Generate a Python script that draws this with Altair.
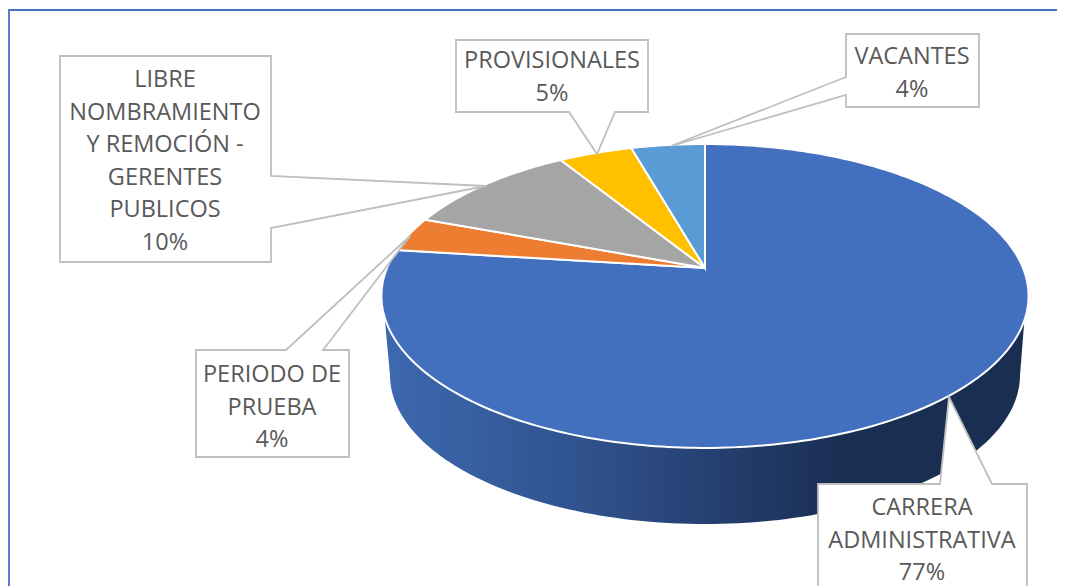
import math
import altair as alt

# ---- data ----
categories = ["CARRERA ADMINISTRATIVA", "PERIODO DE PRUEBA",
              "LIBRE NOMBRAMIENTO Y REMOCIÓN - GERENTES PUBLICOS",
              "PROVISIONALES", "VACANTES"]
shares = [77.0, 3.7, 10.5, 4.4, 4.4]
share_labels = ["77%", "4%", "10%", "5%", "4%"]
label_lines = ["CARRERA\nADMINISTRATIVA", "PERIODO DE\nPRUEBA",
               "LIBRE\nNOMBRAMIENTO\nY REMOCIÓN -\nGERENTES\nPUBLICOS",
               "PROVISIONALES", "VACANTES"]
colors = ["#4270BF", "#ED7D31", "#A5A5A5", "#FFC000", "#5B9BD5"]

# ---- layout (page pixels) ----
APEX = (705.0, 268.0)
A, B, K = 318.0, 146.8, 0.1842     # perspective of the disc
BOTTOM = (705.0, 375.0, 315.0, 149.0)
boxes = [  # left, right, top, bottom, wedge base a, wedge base b, tip, side
    (818, 1027, 484, 600, 940, 992, (949, 397), "top"),
    (196, 349, 350, 457, 286, 323, (410, 236), "top"),
    (60, 271, 56, 262, 176, 228, (486, 186), "right"),
    (456, 648, 40, 112, 569, 615, (597, 154), "bottom"),
    (846, 979, 34, 107, 77, 95, (671, 146), "left"),
]
first_line_anchor = [(922, 508), (272, 375), (165, 80), (552, 61), (912, 57)]


def disc(theta):
    u, v = math.sin(theta), -math.cos(theta)
    d = 1 - K * v
    return [APEX[0] + A * u / d, APEX[1] + B * v / d]


def feature(kind, coords, **props):
    return {"type": "Feature", "properties": props,
            "geometry": {"type": kind, "coordinates": coords}}


def callout(b):
    l, r, t, bo, a, c, tip, side = b
    tip = list(tip)
    if side == "top":
        pts = [[l, t], [a, t], tip, [c, t], [r, t], [r, bo], [l, bo]]
    elif side == "bottom":
        pts = [[l, t], [r, t], [r, bo], [c, bo], tip, [a, bo], [l, bo]]
    elif side == "right":
        pts = [[l, t], [r, t], [r, a], tip, [r, c], [r, bo], [l, bo]]
    else:
        pts = [[l, t], [r, t], [r, bo], [l, bo], [l, c], tip, [l, a]]
    return feature("Polygon", [pts + [pts[0]]])


total = sum(shares)
slices, start = [], 0.0
for name, share in zip(categories, shares):
    end = start + share / total * 2 * math.pi
    n = max(4, int((end - start) * 60))
    arc = [disc(start + (end - start) * i / n) for i in range(n + 1)]
    ring = [list(APEX)] + arc + [list(APEX)]
    slices.append(feature("Polygon", [ring], name=name))
    start = end

cx, cy, rx, ry = BOTTOM
wall_ring = [[383, 300]]
for i in range(121):
    t = math.pi * i / 120
    wall_ring.append([cx - rx * math.cos(t), cy + ry * math.sin(t)])
wall_ring += [[1026, 300], [383, 300]]
wall = [feature("Polygon", [wall_ring])]

frame = [feature("LineString", [[9, 586], [9, 10], [1065, 10]])]

projection = alt.Projection(type="identity", scale=1, translate=[-8, -8])

wall_layer = alt.Chart(alt.Data(values=wall)).mark_geoshape(
    stroke=None,
    fill=alt.Gradient(
        gradient="linear", x1=0, x2=1, y1=0, y2=0,
        stops=[alt.GradientStop(offset=0, color="#3D69B0"),
               alt.GradientStop(offset=0.3, color="#30538F"),
               alt.GradientStop(offset=0.55, color="#233C6B"),
               alt.GradientStop(offset=0.72, color="#1A2E52"),
               alt.GradientStop(offset=1, color="#1A2E52")]),
)

slice_layer = alt.Chart(alt.Data(values=slices)).mark_geoshape(
    stroke="white", strokeWidth=2
).encode(
    fill=alt.Color("properties.name:N",
                   scale=alt.Scale(domain=categories, range=colors),
                   legend=None)
)

callout_layer = alt.Chart(alt.Data(values=[callout(b) for b in boxes])).mark_geoshape(
    fill="white", stroke="#BFBFBF", strokeWidth=1.8
)

frame_layer = alt.Chart(alt.Data(values=frame)).mark_geoshape(
    filled=False, stroke="#4472C4", strokeWidth=1.8
)

rows = [{"t": f"{ln}\n{pc}", "lon": c[0], "lat": c[1]}
        for ln, pc, c in zip(label_lines, share_labels, first_line_anchor)]
text_layer = alt.Chart(alt.Data(values=rows)).mark_text(
    font="Open Sans", fontSize=23.5, color="#595959", lineBreak="\n",
    lineHeight=32.5, align="center", baseline="middle"
).encode(longitude="lon:Q", latitude="lat:Q", text="t:N")

chart = alt.layer(wall_layer, slice_layer, callout_layer, frame_layer, text_layer).properties(
    width=1049, height=578, projection=projection, padding=0,
    background="white", autosize=alt.AutoSizeParams(type="none")
).configure_view(stroke=None)

chart.save("out.html", embed_options={"renderer": "svg", "actions": False})
